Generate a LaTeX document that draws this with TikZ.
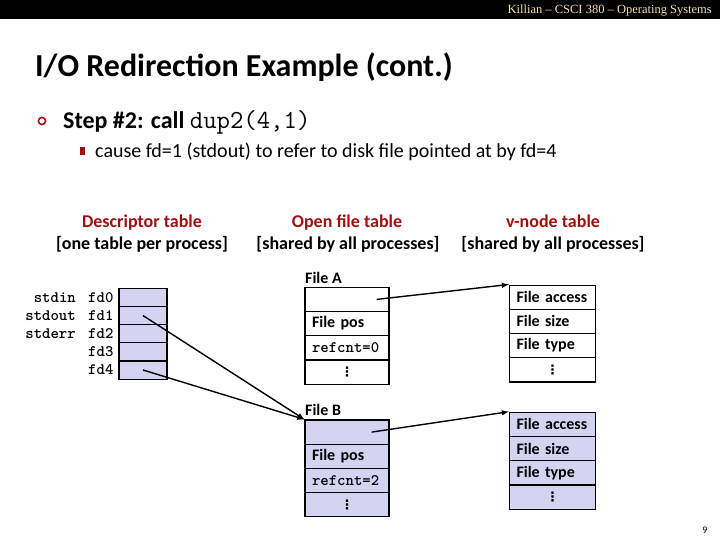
\documentclass[tikz,border=0pt]{standalone}
\usepackage{fontspec}
\setmainfont{Carlito}
\newfontfamily\barfont{Liberation Serif}
\newfontfamily\symfont{DejaVu Sans}
\usetikzlibrary{calc}
\definecolor{lav}{RGB}{212,212,242}
\definecolor{headred}{RGB}{160,16,16}
\definecolor{bartan}{RGB}{246,224,176}

\begin{document}
\begin{tikzpicture}[x=1pt,y=-1pt,
        every node/.style={inner sep=0pt},
        cell/.style={draw=black, line width=1.2pt, text width=70pt, inner xsep=7pt,
                     minimum height=24.2pt, align=left, font=\fontsize{16}{18}\selectfont\bfseries},
        vcell/.style={cell, text width=72pt},
        dots/.style={align=center, font=\symfont\fontsize{13}{14}\selectfont\bfseries},
        fdcell/.style={draw=black, line width=1.2pt, fill=lav, minimum width=48pt, minimum height=18.2pt},
        code/.style={font=\fontsize{16}{18}\selectfont\ttfamily\bfseries},
        colhead/.style={anchor=base, font=\fontsize{18}{20}\selectfont\bfseries},
        filelabel/.style={anchor=base west, font=\fontsize{16}{18}\selectfont\bfseries},
        link/.style={-latex, line width=1.4pt}
        ]
        \useasboundingbox (0,0) rectangle (720,540);
        \fill[black] (0,0) rectangle (720,19);
        \node[anchor=base east, text=bartan, font=\barfont\fontsize{12.5}{14}\selectfont] (bar) at (712,14)
            {Killian – CSCI 380 – Operating Systems};
        \node[anchor=base west, font=\fontsize{32}{38}\selectfont\bfseries] (title) at (35,77)
            {I/O Redirection Example (cont.)};
        \draw[headred, line width=1.6pt] (42,121) circle (3.6pt);
        \node[anchor=base west, font=\fontsize{24}{28}\selectfont\bfseries] (step) at (63,129)
            {Step \#2: call {\fontsize{26}{28}\selectfont\ttfamily\mdseries dup2(4,1)}};
        \fill[headred] (80,147) rectangle (85,155);
        \node[anchor=base west, font=\fontsize{20}{24}\selectfont] (cause) at (95,158)
            {cause fd=1 (stdout) to refer to disk file pointed at by fd=4};

        \node[colhead, text=headred] (deschead) at (142,227) {Descriptor table};
        \node[colhead] (descsub) at (142,249) {[one table per process]};
        \node[colhead, text=headred] (openhead) at (347,227) {Open file table};
        \node[colhead] (opensub) at (348,249) {[shared by all processes]};
        \node[colhead, text=headred] (vnodehead) at (553,227) {v-node table};
        \node[colhead] (vnodesub) at (553,249) {[shared by all processes]};

        \foreach \i in {0,...,4} {
            \node[fdcell] (fd\i) at (143,{297.4+18.15*\i}) {};
            \node[code, anchor=west] (fdl\i) at (88,{297.4+18.15*\i}) {fd\i};
        }
        \node[code, anchor=east] (stdin) at (76,297.4) {stdin};
        \node[code, anchor=east] (stdout) at (76,315.5) {stdout};
        \node[code, anchor=east] (stderr) at (76,333.7) {stderr};

        \node[filelabel] (labA) at (305,283) {File A};
        \node[cell] (fa0) at (347,299.4) {};
        \node[cell] (fa1) at (347,323.6) {File pos};
        \node[cell, code] (fa2) at (347,347.8) {refcnt=0};
        \node[cell, dots] (fa3) at (347,372) {⋮};

        \node[filelabel] (labB) at (305,415) {File B};
        \node[cell, fill=lav] (fb0) at (347,432.1) {};
        \node[cell, fill=lav] (fb1) at (347,456.3) {File pos};
        \node[cell, fill=lav, code] (fb2) at (347,480.5) {refcnt=2};
        \node[cell, fill=lav, dots] (fb3) at (347,504.7) {⋮};

        \node[vcell] (va0) at (552.5,297.2) {File access};
        \node[vcell] (va1) at (552.5,321.4) {File size};
        \node[vcell] (va2) at (552.5,345.6) {File type};
        \node[vcell, dots] (va3) at (552.5,369.8) {⋮};

        \node[vcell, fill=lav] (vb0) at (552.5,424.4) {File access};
        \node[vcell, fill=lav] (vb1) at (552.5,448.6) {File size};
        \node[vcell, fill=lav] (vb2) at (552.5,472.8) {File type};
        \node[vcell, fill=lav, dots] (vb3) at (552.5,497) {⋮};

        \draw[link] (fd1.center) -- (fb0.north west);
        \draw[link] (fd4.center) -- (fb0.north west);
        \draw[link] ([xshift=-13pt]fa0.east) -- (va0.north west);
        \draw[link] ([xshift=-18pt]fb0.east) -- (vb0.north west);

        \node[font=\fontsize{10}{12}\selectfont] (page) at (705,530) {9};
    \end{tikzpicture}
\end{document}
